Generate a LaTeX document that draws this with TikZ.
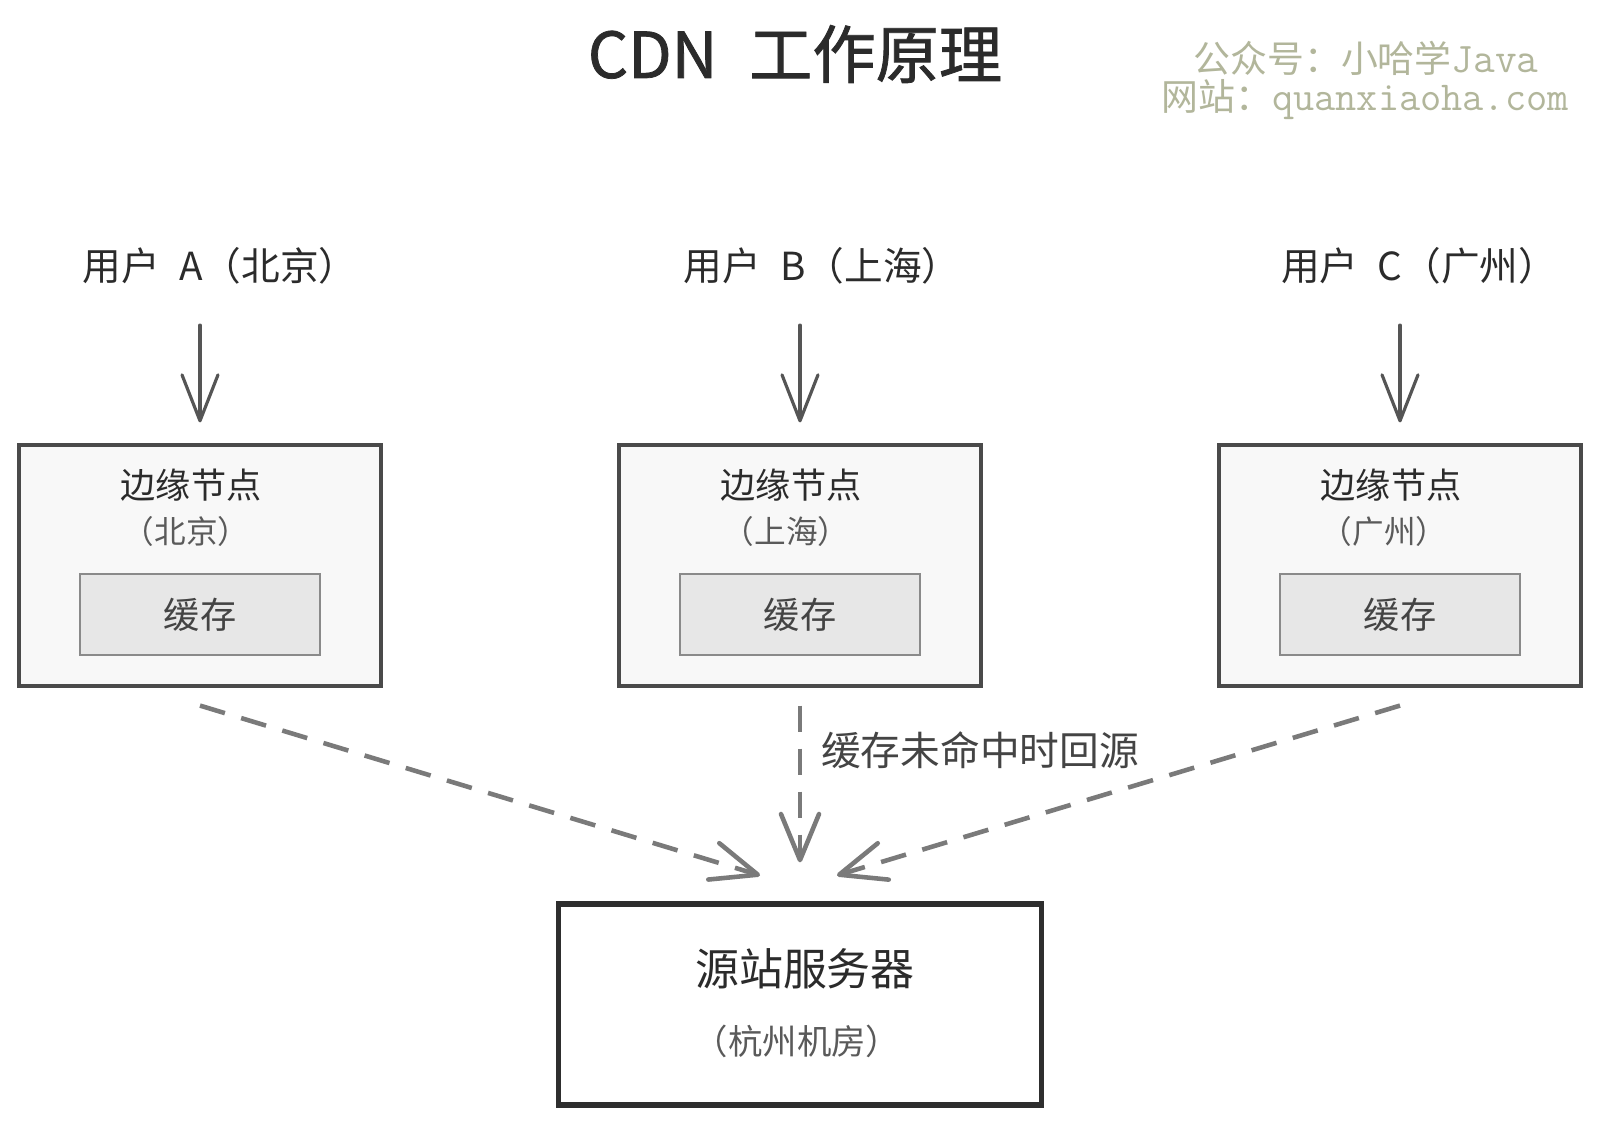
\documentclass[tikz,border=0pt]{standalone}
\usepackage{fontspec}
\setmainfont{Noto Sans CJK SC}
\newfontfamily\titlefont[FakeBold=1.2]{Noto Sans CJK SC}
\usetikzlibrary{arrows.meta}

\definecolor{inkgray}{HTML}{2B2B2B}
\definecolor{textgray}{HTML}{444444}
\definecolor{subgray}{HTML}{5A5A5A}
\definecolor{linegray}{HTML}{555555}
\definecolor{dashgray}{HTML}{7A7A7A}
\definecolor{boxgray}{HTML}{4A4A4A}
\definecolor{boxfill}{HTML}{F8F8F8}
\definecolor{cachegray}{HTML}{8A8A8A}
\definecolor{cachefill}{HTML}{E7E7E7}
\definecolor{wmgray}{RGB}{178,182,155}

\begin{document}
\begin{tikzpicture}[every text node part/.style={align=center},
    usr/.style={draw=linegray, line width=0.9pt, line cap=round,
      -{Straight Barb[round,length=4.6mm,width=3.6mm]}, shorten <=4mm, shorten >=2.1mm},
    back/.style={draw=dashgray, line width=1.3pt, dash pattern=on 2.6mm off 1.7mm,
      -{Straight Barb[round,length=4.6mm,width=3.8mm]}},
    edgebox/.style={draw=boxgray, line width=0.9pt, fill=boxfill,
      minimum width=3.62cm, minimum height=2.41cm},
    cachebox/.style={draw=cachegray, line width=0.6pt, fill=cachefill, text=textgray,
      minimum width=2.40cm, minimum height=0.81cm, font=\fontsize{10.3}{12}\selectfont},
    usrlabel/.style={inner sep=0pt, text=inkgray, font=\fontsize{11}{13}\selectfont},
    edgename/.style={inner sep=0pt, text=inkgray, font=\fontsize{10}{12}\selectfont},
    edgecity/.style={inner sep=0pt, text=subgray, font=\fontsize{9}{11}\selectfont}]

    \useasboundingbox (0,0) rectangle (16,11.25);
    \fill[white] (0,0) rectangle (16,11.25);

    % --------------------------------------------------------- %
    % ------------- title and watermark
    % --------------------------------------------------------- %
    \node[inner sep=0pt, text=inkgray] (title) at (7.95,10.71) {\titlefont\fontsize{18}{20}\selectfont CDN\enspace 工作原理};
    \node[inner sep=0pt, text=wmgray] (wm1) at (13.66,10.67) {\fontsize{10.5}{12}\selectfont 公众号：小哈学{\ttfamily\fontsize{12}{12}\selectfont Java}};
    \node[inner sep=0pt, text=wmgray] (wm2) at (13.65,10.25) {\fontsize{10.5}{12}\selectfont 网站：{\ttfamily\fontsize{11.7}{12}\selectfont quanxiaoha.com}};

    % --------------------------------------------------------- %
    % ------------ Users and edge nodes
    % --------------------------------------------------------- %
    % --- user A (Beijing)
    \node[usrlabel] (userA) at (2.20,8.59) {用户\enspace A（北京）};
    \node[edgebox] (edgeA) at (2.00,5.595) {};
    \node[edgename] (nameA) at (1.91,6.40) {边缘节点};
    \node[edgecity] (cityA) at (1.86,5.94) {（北京）};
    \node[cachebox] (cacheA) at (2.00,5.105) {缓存};
    \draw [usr] (userA.south -| edgeA.north) -- (edgeA.north);
    % --- user B (Shanghai)
    \node[usrlabel] (userB) at (8.22,8.59) {用户\enspace B（上海）};
    \node[edgebox] (edgeB) at (8.00,5.595) {};
    \node[edgename] (nameB) at (7.91,6.40) {边缘节点};
    \node[edgecity] (cityB) at (7.86,5.94) {（上海）};
    \node[cachebox] (cacheB) at (8.00,5.105) {缓存};
    \draw [usr] (userB.south -| edgeB.north) -- (edgeB.north);
    % --- user C (Guangzhou)
    \node[usrlabel] (userC) at (14.19,8.59) {用户\enspace C（广州）};
    \node[edgebox] (edgeC) at (14.00,5.595) {};
    \node[edgename] (nameC) at (13.91,6.40) {边缘节点};
    \node[edgecity] (cityC) at (13.84,5.94) {（广州）};
    \node[cachebox] (cacheC) at (14.00,5.105) {缓存};
    \draw [usr] (userC.south -| edgeC.north) -- (edgeC.north);

    % --------------------------------------------------------- %
    % ------------ Origin server
    % --------------------------------------------------------- %
    \node[draw=black!82, line width=1.5pt, fill=white, minimum width=4.83cm, minimum height=2.01cm] (origin) at (8.00,1.205) {};
    \node[inner sep=0pt, text=inkgray, font=\fontsize{12.5}{14}\selectfont] (originname) at (8.05,1.56) {源站服务器};
    \node[inner sep=0pt, text=subgray, font=\fontsize{9.8}{12}\selectfont] (origincity) at (7.97,0.84) {（杭州机房）};

    % --- cache miss: back to origin
    \draw [back] ([yshift=-1.8mm]edgeA.south) -- ([xshift=-4mm,yshift=2.6mm]origin.north);
    \draw [back] ([yshift=-1.8mm]edgeB.south) -- ([yshift=3.9mm]origin.north);
    \draw [back] ([yshift=-1.8mm]edgeC.south) -- ([xshift=3.7mm,yshift=2.6mm]origin.north);
    \node[inner sep=0pt, text=textgray, font=\fontsize{11.3}{13}\selectfont] (missl) at (9.80,3.75) {缓存未命中时回源};

  \end{tikzpicture}
\end{document}
